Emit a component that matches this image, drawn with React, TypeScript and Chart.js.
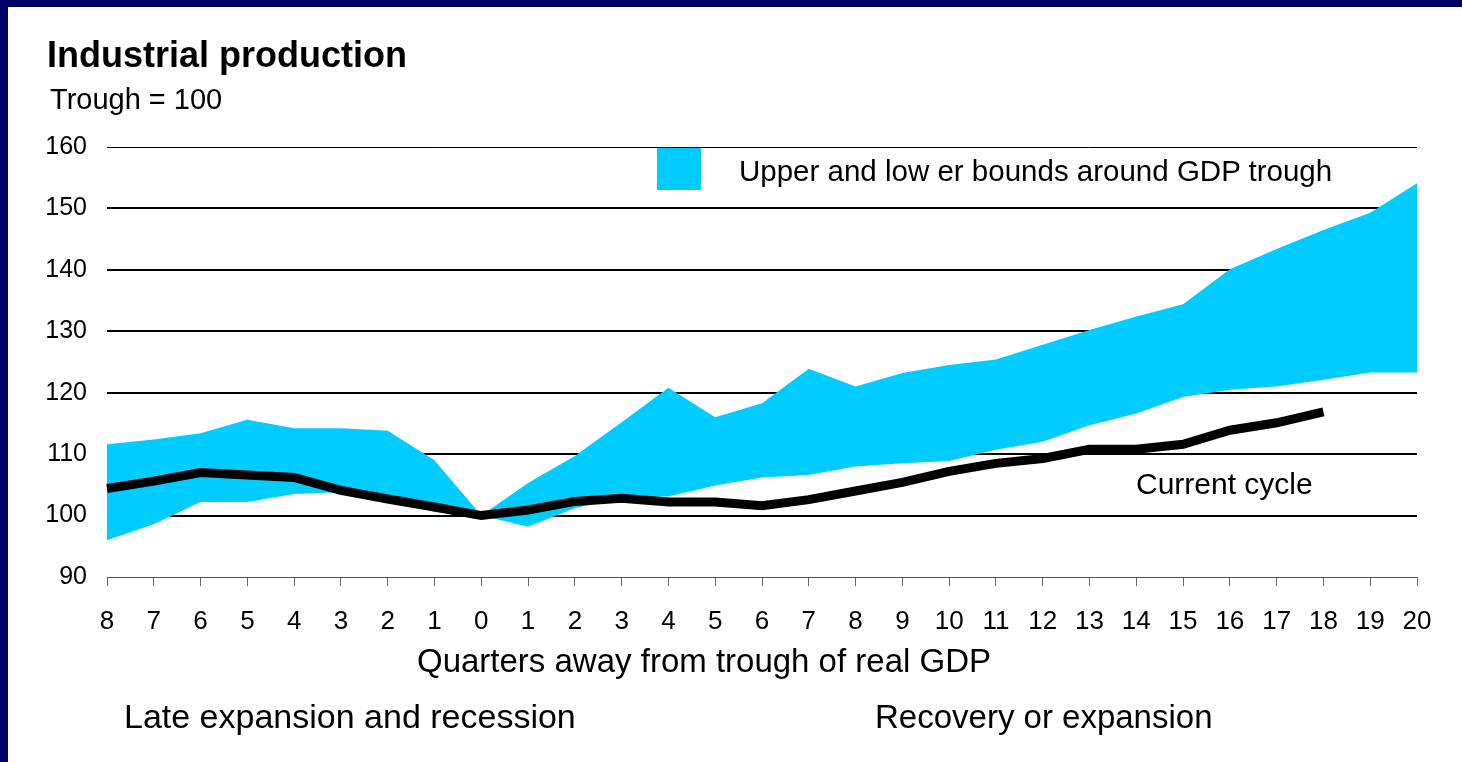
import React, { useEffect, useRef } from "react";
import { Chart, registerables } from "chart.js";

Chart.register(...registerables);

const QUARTERS: string[] = [
  "8", "7", "6", "5", "4", "3", "2", "1", "0",
  "1", "2", "3", "4", "5", "6", "7", "8", "9", "10",
  "11", "12", "13", "14", "15", "16", "17", "18", "19", "20",
];

const UPPER_BOUND: number[] = [
  111.6, 112.4, 113.4, 115.6, 114.2, 114.2, 113.8, 109.0, 100.0,
  105.3, 109.7, 115.2, 120.8, 116.0, 118.3, 123.9, 121.0, 123.2, 124.5,
  125.4, 127.8, 130.2, 132.4, 134.4, 140.1, 143.4, 146.5, 149.3, 154.1,
];

const LOWER_BOUND: number[] = [
  96.0, 98.6, 102.2, 102.2, 103.5, 103.8, 103.0, 100.6, 100.0,
  98.2, 101.2, 103.0, 103.1, 104.9, 106.2, 106.6, 108.0, 108.5, 108.9,
  110.7, 112.0, 114.7, 116.6, 119.3, 120.5, 121.0, 122.1, 123.3, 123.3,
];

const CURRENT_CYCLE: (number | null)[] = [
  104.4, 105.6, 107.0, 106.6, 106.2, 104.1, 102.7, 101.4, 100.0,
  100.9, 102.3, 102.8, 102.2, 102.2, 101.6, 102.6, 104.0, 105.4, 107.2,
  108.5, 109.3, 110.8, 110.8, 111.6, 113.9, 115.1, 116.9, null, null,
];

const Y_TICKS: number[] = [90, 100, 110, 120, 130, 140, 150, 160];

const FONT = "'Liberation Sans', Arial, Helvetica, sans-serif";
const BLUE = "#00CCFF";

function textStyle(size: number, left: number, baseline: number, bold = false): React.CSSProperties {
  return {
    position: "absolute",
    left,
    top: baseline - 0.8465 * size,
    fontFamily: FONT,
    fontSize: size,
    fontWeight: bold ? 700 : 400,
    lineHeight: 1,
    color: "#000",
    whiteSpace: "nowrap",
  };
}

export default function App() {
  const canvasRef = useRef<HTMLCanvasElement | null>(null);

  useEffect(() => {
    const canvas = canvasRef.current;
    if (!canvas) return;
    const chart = new Chart(canvas, {
      type: "line",
      data: {
        labels: QUARTERS,
        datasets: [
          {
            label: "Lower bound",
            data: LOWER_BOUND,
            borderColor: "rgba(0,0,0,0)",
            borderWidth: 0,
            pointRadius: 0,
            fill: false,
            order: 1,
          },
          {
            label: "Upper and lower bounds around GDP trough",
            data: UPPER_BOUND,
            borderColor: "rgba(0,0,0,0)",
            borderWidth: 0,
            pointRadius: 0,
            backgroundColor: BLUE,
            fill: "-1",
            order: 1,
          },
          {
            label: "Current cycle",
            data: CURRENT_CYCLE,
            borderColor: "#000000",
            borderWidth: 9,
            pointRadius: 0,
            fill: false,
            spanGaps: false,
            order: 0,
          },
        ],
      },
      options: {
        responsive: false,
        animation: false,
        events: [],
        layout: { padding: { top: 147, right: 45, left: 0, bottom: 0 } },
        plugins: {
          legend: { display: false },
          tooltip: { enabled: false },
          title: { display: false },
        },
        scales: {
          x: {
            type: "category",
            offset: false,
            grid: {
              drawOnChartArea: false,
              drawTicks: true,
              tickLength: 9,
              color: "#6a6a6a",
              lineWidth: 1,
            },
            border: { display: false },
            ticks: {
              autoSkip: false,
              maxRotation: 0,
              color: "#000",
              padding: 20,
              font: { family: FONT, size: 26 },
            },
            afterFit: (scale: any) => {
              scale.height = 185;
            },
          },
          y: {
            min: 90,
            max: 160,
            z: 1,
            afterBuildTicks: (scale: any) => {
              scale.ticks = Y_TICKS.map((v) => ({ value: v }));
            },
            grid: {
              drawTicks: false,
              color: (ctx: any) => (ctx.tick && ctx.tick.value === 90 ? "#555555" : "#000000"),
              lineWidth: (ctx: any) =>
                ctx.tick && (ctx.tick.value === 90 || ctx.tick.value === 160) ? 1 : 2,
            },
            border: { display: false },
            ticks: {
              color: "#000",
              padding: 20,
              font: { family: FONT, size: 25 },
            },
            afterFit: (scale: any) => {
              scale.width = 107;
            },
          },
        },
      },
    });
    return () => chart.destroy();
  }, []);

  return (
    <div
      style={{
        position: "fixed",
        left: 0,
        top: 0,
        width: 1462,
        height: 762,
        background: "#000066",
        overflow: "hidden",
      }}
    >
      <div
        style={{
          position: "absolute",
          left: 8,
          top: 7,
          right: 0,
          bottom: 0,
          background: "#ffffff",
        }}
      />
      <canvas
        ref={canvasRef}
        width={1462}
        height={762}
        style={{ position: "absolute", left: 0, top: 0, width: 1462, height: 762 }}
      />
      <div style={textStyle(36, 47, 67, true)}>Industrial production</div>
      <div style={textStyle(29, 50, 110)}>Trough = 100</div>
      <div
        style={{
          position: "absolute",
          left: 657,
          top: 148,
          width: 44,
          height: 42,
          background: BLUE,
        }}
      />
      <div style={textStyle(29.5, 739, 181)}>Upper and low er bounds around GDP trough</div>
      <div style={textStyle(30, 1136, 494)}>Current cycle</div>
      <div style={{ ...textStyle(33, 704, 672), transform: "translateX(-50%)" }}>
        Quarters away from trough of real GDP
      </div>
      <div style={textStyle(34, 124, 728)}>Late expansion and recession</div>
      <div style={textStyle(33, 875, 728)}>Recovery or expansion</div>
    </div>
  );
}
